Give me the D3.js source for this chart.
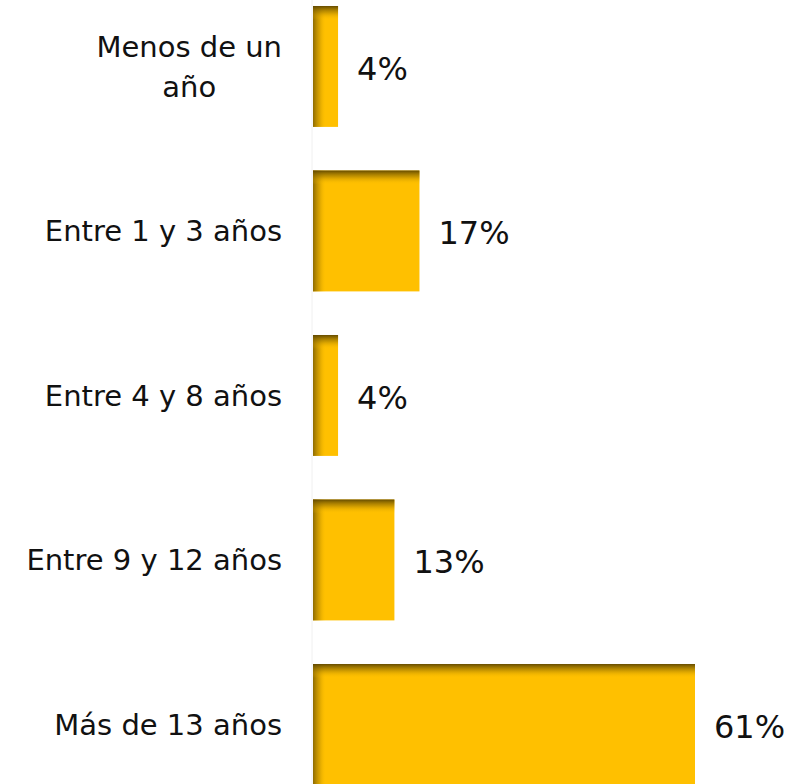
<!DOCTYPE html>
<html><head><meta charset="utf-8">
<script src="https://cdn.jsdelivr.net/npm/d3@7/dist/d3.min.js"></script>
<style>body{margin:0;background:#fff}svg{display:block}</style>
</head><body>
<script>
const categories = [["Menos de un","año"],["Entre 1 y 3 años"],["Entre 4 y 8 años"],["Entre 9 y 12 años"],["Más de 13 años"]];
const values = [4, 17, 4, 13, 61];
const valueLabels = ["4%","17%","4%","13%","61%"];

const W = 810, H = 784;
const svg = d3.select("body").append("svg").attr("width", W).attr("height", H);
const font = "'DejaVu Sans', sans-serif";
const x0 = 313;
const x = d3.scaleLinear().domain([0, 61]).range([x0, 695]);
const y = d3.scaleBand().domain(d3.range(values.length)).range([-15.8, 806.7]).paddingInner(0.265).paddingOuter(0.1325);

const defs = svg.append("defs");
const gt = defs.append("linearGradient").attr("id","gTop").attr("x1",0).attr("y1",0).attr("x2",0).attr("y2",1);
gt.append("stop").attr("offset","0%").attr("stop-color","#5e4600").attr("stop-opacity",0.95);
gt.append("stop").attr("offset","45%").attr("stop-color","#9a7400").attr("stop-opacity",0.55);
gt.append("stop").attr("offset","100%").attr("stop-color","#ffc000").attr("stop-opacity",0);
const gl = defs.append("linearGradient").attr("id","gLeft").attr("x1",0).attr("y1",0).attr("x2",1).attr("y2",0);
gl.append("stop").attr("offset","0%").attr("stop-color","#7a5c00").attr("stop-opacity",0.85);
gl.append("stop").attr("offset","50%").attr("stop-color","#a07800").attr("stop-opacity",0.4);
gl.append("stop").attr("offset","100%").attr("stop-color","#ffc000").attr("stop-opacity",0);

svg.append("line").attr("x1", x0-1).attr("x2", x0-1).attr("y1", 0).attr("y2", H)
  .attr("stroke", "#f0f0f0").attr("stroke-width", 1);

const g = svg.selectAll("g.bar").data(values).join("g").attr("class","bar");
g.append("rect").attr("x", x0).attr("y", (d,i)=>y(i)).attr("width", d=>x(d)-x0).attr("height", y.bandwidth()).attr("fill","#ffc000");
g.append("rect").attr("x", x0).attr("y", (d,i)=>y(i)).attr("width", d=>Math.min(13, x(d)-x0)).attr("height", y.bandwidth()).attr("fill","url(#gLeft)");
g.append("rect").attr("x", x0).attr("y", (d,i)=>y(i)).attr("width", d=>x(d)-x0).attr("height", 14).attr("fill","url(#gTop)");

g.append("text").attr("x", d=>x(d)+19).attr("y", (d,i)=>y(i)+y.bandwidth()/2)
  .attr("dy","0.42em").attr("font-family", font).attr("font-size", 32).attr("fill","#111")
  .text((d,i)=>valueLabels[i]);

const labX = 282;
svg.selectAll("g.cat").data(categories).join("g").attr("class","cat").each(function(lines, i){
  const gg = d3.select(this);
  const cy = y(i) + y.bandwidth()/2;
  const lh = 40;
  const first = gg.append("text").attr("x", labX).attr("text-anchor","end")
    .attr("font-family", font).attr("font-size", 29).attr("fill","#111")
    .attr("y", cy - (lines.length-1)*lh/2).attr("dy","0.36em").text(lines[0]);
  if (lines.length > 1) {
    const w = first.node().getComputedTextLength();
    const cx = labX - w/2;
    lines.slice(1).forEach((t, j) => {
      gg.append("text").attr("x", cx).attr("text-anchor","middle")
        .attr("font-family", font).attr("font-size", 29).attr("fill","#111")
        .attr("y", cy - (lines.length-1)*lh/2 + (j+1)*lh).attr("dy","0.36em").text(t);
    });
  }
});
</script>
</body></html>
